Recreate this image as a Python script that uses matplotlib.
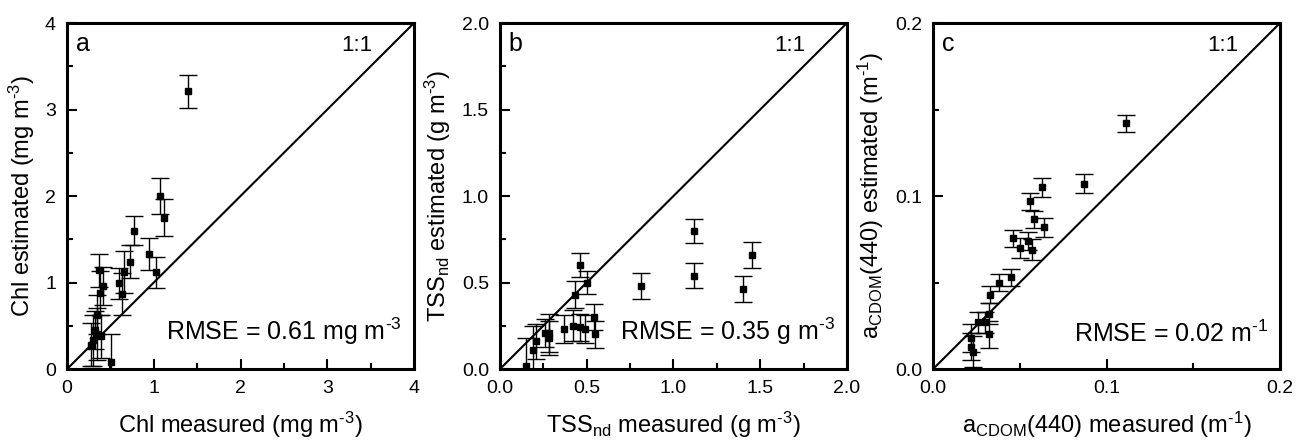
import numpy as np
import matplotlib
matplotlib.use('Agg')
import matplotlib.pyplot as plt
from matplotlib.ticker import MultipleLocator, FormatStrFormatter

plt.rcParams['font.family'] = ['Liberation Sans', 'DejaVu Sans']
plt.rcParams['mathtext.fontset'] = 'custom'
plt.rcParams['mathtext.rm'] = 'Liberation Sans'
plt.rcParams['mathtext.it'] = 'Liberation Sans:italic'
plt.rcParams['mathtext.default'] = 'regular'

# panel a: Chl (mg m-3)
chl_meas = [1.39, 1.07, 1.12, 0.77, 0.94, 1.03, 0.72, 0.66, 0.37, 0.42,
            0.60, 0.63, 0.38, 0.35, 0.32, 0.30, 0.39, 0.28, 0.34, 0.51]
chl_est = [3.21, 2.00, 1.75, 1.60, 1.33, 1.12, 1.24, 1.12, 1.14, 0.96,
           0.99, 0.87, 0.88, 0.63, 0.45, 0.33, 0.38, 0.28, 0.40, 0.08]
chl_err = [0.19, 0.21, 0.21, 0.17, 0.18, 0.18, 0.19, 0.24, 0.19, 0.22,
           0.18, 0.24, 0.25, 0.22, 0.22, 0.30, 0.25, 0.25, 0.30, 0.33]

# panel b: TSSnd (g m-3)
tss_meas = [1.12, 1.12, 1.45, 1.40, 0.81, 0.46, 0.50, 0.43, 0.54, 0.55,
            0.37, 0.42, 0.46, 0.49, 0.28, 0.28, 0.26, 0.21, 0.19, 0.15]
tss_est = [0.80, 0.54, 0.66, 0.46, 0.48, 0.60, 0.50, 0.43, 0.30, 0.20,
           0.23, 0.25, 0.24, 0.23, 0.21, 0.18, 0.21, 0.16, 0.11, 0.02]
tss_err = [0.07, 0.07, 0.075, 0.075, 0.075, 0.07, 0.065, 0.08, 0.075, 0.08,
           0.08, 0.09, 0.08, 0.08, 0.11, 0.10, 0.08, 0.10, 0.14, 0.16]

# panel c: aCDOM(440) (m-1)
cdom_meas = [0.111, 0.087, 0.063, 0.056, 0.058, 0.064, 0.046, 0.055, 0.050, 0.057,
             0.045, 0.038, 0.033, 0.032, 0.026, 0.030, 0.032, 0.022, 0.022, 0.023]
cdom_est = [0.142, 0.107, 0.105, 0.097, 0.0865, 0.082, 0.0755, 0.074, 0.070, 0.069,
            0.053, 0.050, 0.043, 0.032, 0.027, 0.027, 0.020, 0.018, 0.013, 0.010]
cdom_err = [0.005, 0.0055, 0.0055, 0.005, 0.005, 0.0055, 0.005, 0.005, 0.006, 0.006,
            0.005, 0.005, 0.005, 0.006, 0.006, 0.006, 0.008, 0.008, 0.008, 0.009]

m3 = r'$^{\text{-}3}$'
m1 = r'$^{\text{-}1}$'
panels = [
    dict(x=chl_meas, y=chl_est, e=chl_err, lim=4, major=1, minor=0.5, fmt='%d',
         letter='a', rmse='RMSE = 0.61 mg m' + m3,
         xlabel='Chl measured (mg m' + m3 + ')', ylabel='Chl estimated (mg m' + m3 + ')'),
    dict(x=tss_meas, y=tss_est, e=tss_err, lim=2, major=0.5, minor=0.25, fmt='%.1f',
         letter='b', rmse='RMSE = 0.35 g m' + m3,
         xlabel='TSS$_{nd}$ measured (g m' + m3 + ')', ylabel='TSS$_{nd}$ estimated (g m' + m3 + ')'),
    dict(x=cdom_meas, y=cdom_est, e=cdom_err, lim=0.2, major=0.1, minor=0.05, fmt='%.1f',
         letter='c', rmse='RMSE = 0.02 m' + m1,
         xlabel='a$_{CDOM}$(440) measured (m' + m1 + ')', ylabel='a$_{CDOM}$(440) estimated (m' + m1 + ')'),
]

fig = plt.figure(figsize=(12.97, 4.46), dpi=100)
lefts = [0.0517, 0.3855, 0.7194]
for left, p in zip(lefts, panels):
    ax = fig.add_axes([left, 0.1726, 0.2675, 0.7758])
    lim = p['lim']
    ax.plot([0, lim], [0, lim], color='k', lw=1.5, zorder=1)
    ax.errorbar(p['x'], p['y'], yerr=p['e'], fmt='s', color='k', ms=4.5,
                elinewidth=1.0, capsize=6.5, capthick=1.0, zorder=2)
    ax.set_xlim(0, lim)
    ax.set_ylim(0, lim)
    for a in (ax.xaxis, ax.yaxis):
        a.set_major_locator(MultipleLocator(p['major']))
        a.set_minor_locator(MultipleLocator(p['minor']))
        a.set_major_formatter(FormatStrFormatter(p['fmt']))
    ax.tick_params(which='both', direction='in', top=False, right=False,
                   labelsize=14, width=1.5)
    ax.tick_params(which='major', length=7, pad=8)
    ax.tick_params(which='minor', length=4)
    for s in ax.spines.values():
        s.set_linewidth(2.2)
    ax.text(0.025, 0.975, p['letter'], transform=ax.transAxes, fontsize=18,
            ha='left', va='top')
    ax.text(0.79, 0.965, '1:1', transform=ax.transAxes, fontsize=16,
            ha='left', va='top')
    ax.text(0.965, 0.065, p['rmse'], transform=ax.transAxes, fontsize=18,
            ha='right', va='bottom')
    ax.set_xlabel(p['xlabel'], fontsize=17, labelpad=9)
    ax.set_ylabel(p['ylabel'], fontsize=17, labelpad=6)

fig.savefig('out.png', dpi=100)
